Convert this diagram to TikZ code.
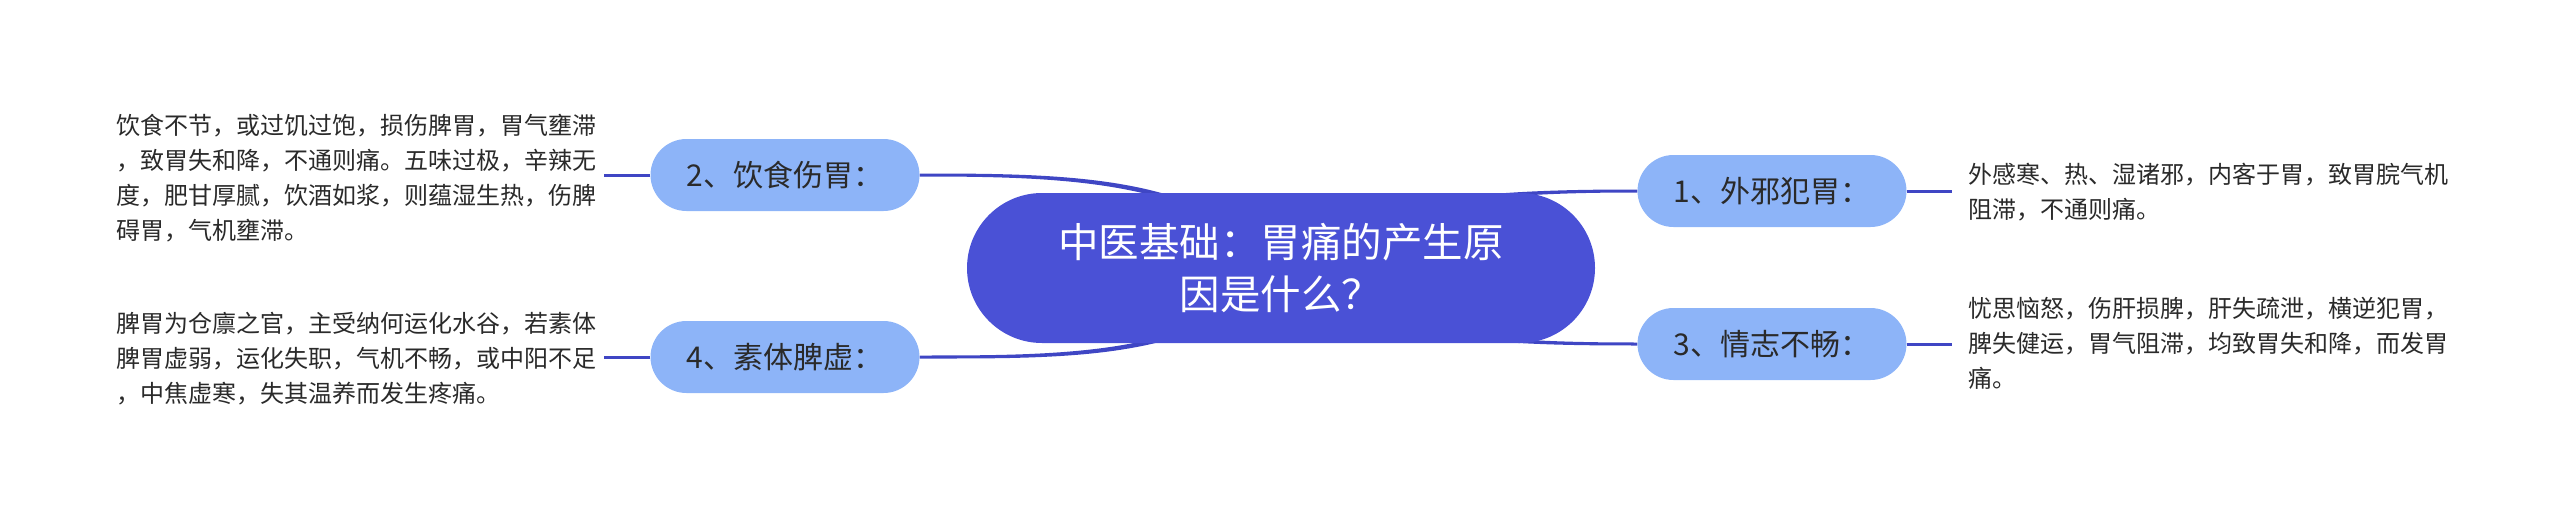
\documentclass[tikz,border=0pt]{standalone}
\usepackage{fontspec}
\setmainfont{Noto Sans CJK SC}
\usetikzlibrary{calc}
\definecolor{cmain}{HTML}{4A51D6}
\definecolor{csub}{HTML}{8DB4F8}
\definecolor{cline}{HTML}{3F46C4}
\definecolor{ctext}{HTML}{2A2A2A}
\pgfdeclarelayer{bg}
\pgfsetlayers{bg,main}
\begin{document}
\begin{tikzpicture}[x=1pt,y=-1pt,
  mainbox/.style={fill=cmain, rounded corners=75pt, minimum width=628pt, minimum height=150pt, text=white, font=\fontsize{40.5}{52}\selectfont, align=center, inner sep=0pt},
  subbox/.style={fill=csub, rounded corners=36pt, minimum width=269pt, minimum height=72pt, text=ctext, font=\fontsize{30}{35}\selectfont, inner sep=0pt},
  leaf/.style={text=ctext, font=\fontsize{24}{35}\selectfont, align=left, inner sep=0pt},
  link/.style={draw=cline, line width=3pt}]
\useasboundingbox (0,0) rectangle (2560,519);

\node[mainbox] (c) at (1281,268) {中医基础：胃痛的产生原\\因是什么？};
\node[subbox] (n2) at (785,175) {2、饮食伤胃：};
\node[subbox] (n4) at (785,357) {4、素体脾虚：};
\node[subbox] (n1) at (1772,191) {1、外邪犯胃：};
\node[subbox] (n3) at (1772,344) {3、情志不畅：};

\node[leaf, anchor=east] (l2) at (597,178) {饮食不节，或过饥过饱，损伤脾胃，胃气壅滞\\，致胃失和降，不通则痛。五味过极，辛辣无\\度，肥甘厚腻，饮酒如浆，则蕴湿生热，伤脾\\碍胃，气机壅滞。};
\node[leaf, anchor=east] (l4) at (597,359) {脾胃为仓廪之官，主受纳何运化水谷，若素体\\脾胃虚弱，运化失职，气机不畅，或中阳不足\\，中焦虚寒，失其温养而发生疼痛。};
\node[leaf, anchor=west] (l1) at (1968,192) {外感寒、热、湿诸邪，内客于胃，致胃脘气机\\阻滞，不通则痛。};
\node[leaf, anchor=west] (l3) at (1968,343) {忧思恼怒，伤肝损脾，肝失疏泄，横逆犯胃，\\脾失健运，胃气阻滞，均致胃失和降，而发胃\\痛。};

\begin{pgfonlayer}{bg}
% tapered curves from centre to main branches
\fill[cline] ($(c.center)+(0,-3)$) .. controls ($(c.center)+(-75,-93)$) and ($(n2.east)+(150,-1.5)$) .. ($(n2.east)+(0,-1.5)$)
  -- ($(n2.east)+(0,1.5)$) .. controls ($(n2.east)+(150,1.5)$) and ($(c.center)+(-75,-87)$) .. ($(c.center)+(0,3)$) -- cycle;
\fill[cline] ($(c.center)+(0,-3)$) .. controls ($(c.center)+(-75,87)$) and ($(n4.east)+(150,-1.5)$) .. ($(n4.east)+(0,-1.5)$)
  -- ($(n4.east)+(0,1.5)$) .. controls ($(n4.east)+(150,1.5)$) and ($(c.center)+(-75,93)$) .. ($(c.center)+(0,3)$) -- cycle;
\fill[cline] ($(c.center)+(0,-3)$) .. controls ($(c.center)+(60,-75)$) and ($(n1.west)+(-120,-1.5)$) .. ($(n1.west)+(0,-1.5)$)
  -- ($(n1.west)+(0,1.5)$) .. controls ($(n1.west)+(-120,1.5)$) and ($(c.center)+(60,-69)$) .. ($(c.center)+(0,3)$) -- cycle;
\fill[cline] ($(c.center)+(0,-3)$) .. controls ($(c.center)+(60,69)$) and ($(n3.west)+(-120,-1.5)$) .. ($(n3.west)+(0,-1.5)$)
  -- ($(n3.west)+(0,1.5)$) .. controls ($(n3.west)+(-120,1.5)$) and ($(c.center)+(60,75)$) .. ($(c.center)+(0,3)$) -- cycle;
\end{pgfonlayer}

% branch to leaf connectors
\draw[link] (n2.west) -- ($(n2.west -| l2.east)+(7,0)$);
\draw[link] (n4.west) -- ($(n4.west -| l4.east)+(7,0)$);
\draw[link] (n1.east) -- ($(n1.east -| l1.west)+(-16,0)$);
\draw[link] (n3.east) -- ($(n3.east -| l3.west)+(-16,0)$);
\end{tikzpicture}
\end{document}
